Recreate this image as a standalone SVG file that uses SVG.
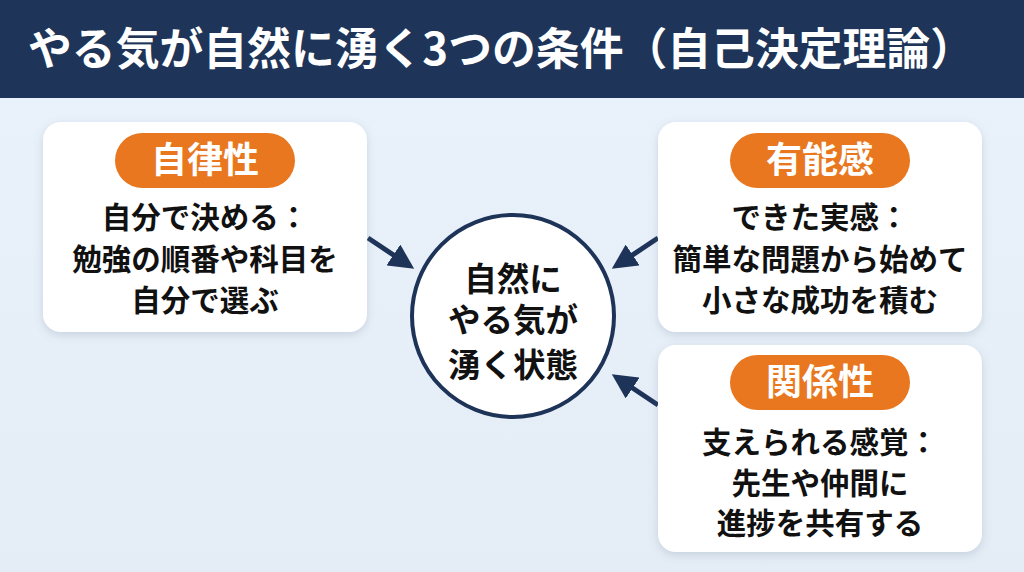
<svg xmlns="http://www.w3.org/2000/svg" width="1024" height="572" viewBox="0 0 1024 572">
<defs>
<linearGradient id="bg" x1="0" y1="0" x2="0" y2="1">
<stop offset="0" stop-color="#eaf2fb"/>
<stop offset="1" stop-color="#e4ecf5"/>
</linearGradient>
<filter id="sh" x="-10%" y="-10%" width="120%" height="130%">
<feDropShadow dx="0" dy="3" stdDeviation="4" flood-color="#6a7f99" flood-opacity="0.25"/>
</filter>
<marker id="ah" viewBox="0 0 10 10" refX="8" refY="5" markerWidth="5" markerHeight="5" orient="auto">
<path d="M0,0 L10,5 L0,10 z" fill="#1e3358"/>
</marker>
<style>
.card{fill:#ffffff;filter:url(#sh)}
.pill{fill:#e8771f}
.pt{font-family:"Noto Sans CJK JP","Noto Sans",sans-serif;font-weight:700;font-size:36px;fill:#ffffff;text-anchor:middle}
.bt{font-family:"Noto Sans CJK JP","Noto Sans",sans-serif;font-weight:700;font-size:29.5px;fill:#111111;text-anchor:middle}
.ct{font-family:"Noto Sans CJK JP","Noto Sans",sans-serif;font-weight:700;font-size:32.5px;fill:#111111;text-anchor:middle}
.conn{stroke:#1e3358;stroke-width:5;fill:none;marker-end:url(#ah)}
</style>
</defs>
<rect x="0" y="0" width="1024" height="572" fill="url(#bg)"/>
<g id="header">
<rect x="0" y="0" width="1024" height="98" fill="#1e3458"/>
<text x="28" y="65" font-family="Noto Sans CJK JP, Noto Sans, sans-serif" font-weight="700" font-size="44" fill="#ffffff" textLength="946" lengthAdjust="spacingAndGlyphs">やる気が自然に湧く3つの条件（自己決定理論）</text>
</g>
<g id="connectors">
<line class="conn" x1="368" y1="238" x2="410" y2="266"/>
<line class="conn" x1="658" y1="238" x2="616" y2="266"/>
<line class="conn" x1="658" y1="405" x2="616" y2="377"/>
</g>
<g id="center">
<circle cx="513" cy="316" r="101" fill="#ffffff" stroke="#1e3358" stroke-width="4"/>
<text class="ct" x="513" y="291">自然に</text>
<text class="ct" x="513" y="332">やる気が</text>
<text class="ct" x="513" y="377">湧く状態</text>
</g>
<g id="autonomy">
<rect class="card" x="43" y="122" width="324" height="210" rx="18"/>
<rect class="pill" x="115" y="133" width="180" height="55" rx="27.5"/>
<text class="pt" x="205" y="173">自律性</text>
<text class="bt" x="205" y="228">自分で決める：</text>
<text class="bt" x="205" y="270">勉強の順番や科目を</text>
<text class="bt" x="205" y="311">自分で選ぶ</text>
</g>
<g id="competence">
<rect class="card" x="658" y="122" width="324" height="210" rx="18"/>
<rect class="pill" x="730" y="133" width="180" height="55" rx="27.5"/>
<text class="pt" x="820" y="173">有能感</text>
<text class="bt" x="820" y="228">できた実感：</text>
<text class="bt" x="820" y="270">簡単な問題から始めて</text>
<text class="bt" x="820" y="311">小さな成功を積む</text>
</g>
<g id="relatedness">
<rect class="card" x="658" y="345" width="324" height="207" rx="18"/>
<rect class="pill" x="730" y="355" width="180" height="55" rx="27.5"/>
<text class="pt" x="820" y="395">関係性</text>
<text class="bt" x="820" y="453">支えられる感覚：</text>
<text class="bt" x="820" y="494">先生や仲間に</text>
<text class="bt" x="820" y="534">進捗を共有する</text>
</g>
</svg>
